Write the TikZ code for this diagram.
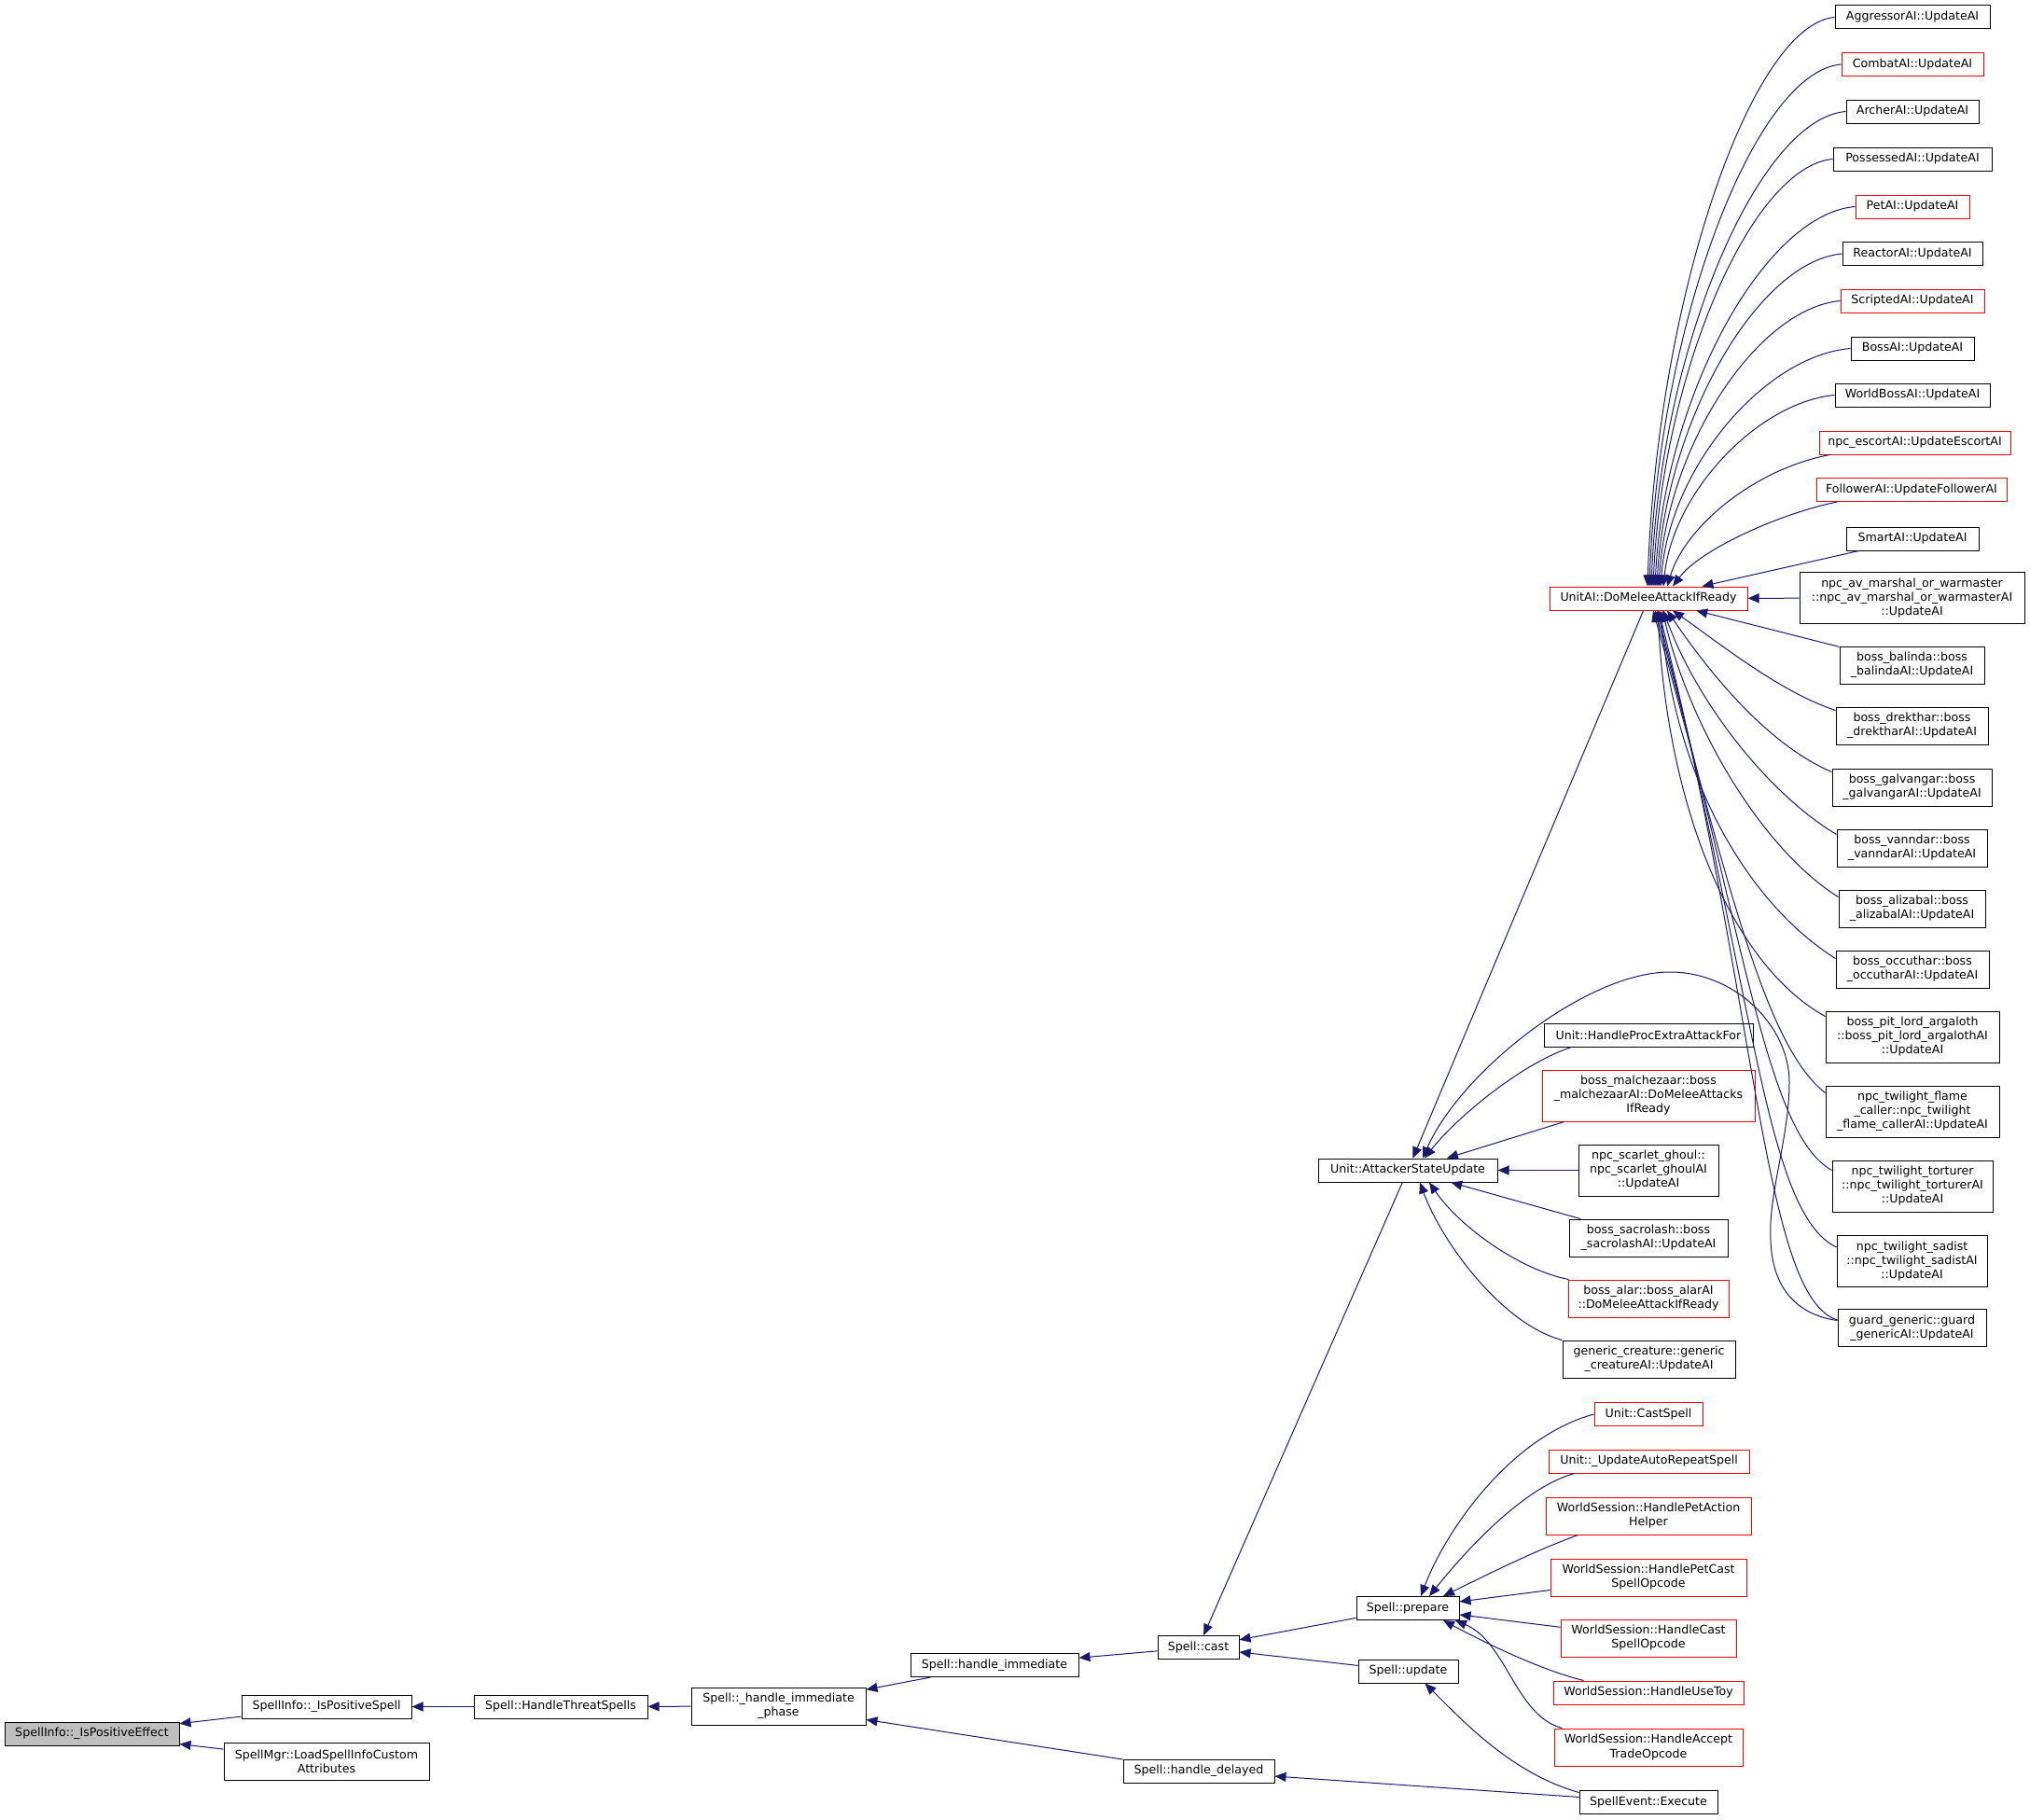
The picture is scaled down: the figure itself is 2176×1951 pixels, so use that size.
\documentclass[tikz,border=0pt]{standalone}
\usepackage{fontspec}
\newfontfamily\dejavu{DejaVu Sans}
\usepackage{xcolor}
\usepackage{tikz}
\usetikzlibrary{arrows.meta}
\definecolor{edgeblue}{HTML}{191970}
\definecolor{nodered}{HTML}{FF0000}
\definecolor{rootgray}{HTML}{BFBFBF}

\begin{document}
\begin{tikzpicture}[x=1pt, y=-1pt,
	fn/.style={draw=black, fill=white, line width=1pt, inner sep=0pt, align=center,
		minimum height=25pt, font=\dejavu\fontsize{12.6}{15}\selectfont},
	fnred/.style={fn, draw=nodered},
	two/.style={minimum height=40pt},
	three/.style={minimum height=55pt},
	callline/.style={<-, >={Triangle[length=12pt, width=10pt]}, draw=edgeblue, line width=1pt}]
			\useasboundingbox (0,0) rectangle (2176,1951);
			
			% spell chain
			\node[fn, fill=rootgray, minimum width=187pt] (effect) at (98.5,1858.5) {SpellInfo::\_IsPositiveEffect};
			\node[fn, minimum width=182pt] (posspell) at (350,1829.5) {SpellInfo::\_IsPositiveSpell};
			\node[fn, two, minimum width=220pt] (loadattr) at (350,1888) {SpellMgr::LoadSpellInfoCustom\\Attributes};
			\node[fn, minimum width=186pt] (threat) at (601,1829.5) {Spell::HandleThreatSpells};
			\node[fn, two, minimum width=187pt] (immphase) at (834.5,1829) {Spell::\_handle\_immediate\\\_phase};
			\node[fn, minimum width=180pt] (handimm) at (1066,1785) {Spell::handle\_immediate};
			\node[fn, minimum width=162pt] (delayed) at (1285,1898.5) {Spell::handle\_delayed};
			\node[fn, minimum width=87pt] (cast) at (1284.5,1766) {Spell::cast};
			\node[fn, minimum width=110pt] (prepare) at (1509,1724) {Spell::prepare};
			\node[fn, minimum width=107pt] (update) at (1509.5,1791.5) {Spell::update};
			\node[fn, minimum width=192pt] (attacker) at (1509,1254.5) {Unit::AttackerStateUpdate};
			\node[fnred, minimum width=212pt] (unitai) at (1767,641.5) {UnitAI::DoMeleeAttackIfReady};
			
			% callers of prepare / update
			\node[fnred, minimum width=116pt] (castspell) at (1767,1516) {Unit::CastSpell};
			\node[fnred, minimum width=215pt] (autorep) at (1767.5,1566.5) {Unit::\_UpdateAutoRepeatSpell};
			\node[fnred, two, minimum width=220pt] (petaction) at (1767,1625) {WorldSession::HandlePetAction\\Helper};
			\node[fnred, two, minimum width=210pt] (petcast) at (1767,1691) {WorldSession::HandlePetCast\\SpellOpcode};
			\node[fnred, two, minimum width=188pt] (castop) at (1767,1756) {WorldSession::HandleCast\\SpellOpcode};
			\node[fnred, minimum width=204pt] (usetoy) at (1767,1814.5) {WorldSession::HandleUseToy};
			\node[fnred, two, minimum width=202pt] (accept) at (1767,1873) {WorldSession::HandleAccept\\TradeOpcode};
			\node[fn, minimum width=148pt] (execute) at (1767,1931.5) {SpellEvent::Execute};
			
			% callers of AttackerStateUpdate
			\node[fn, minimum width=224pt] (procextra) at (1767,1109.5) {Unit::HandleProcExtraAttackFor};
			\node[fnred, three, minimum width=228pt] (malchezaar) at (1767,1174.5) {boss\_malchezaar::boss\\\_malchezaarAI::DoMeleeAttacks\\IfReady};
			\node[fn, three, minimum width=150pt] (ghoul) at (1767,1254.5) {npc\_scarlet\_ghoul::\\npc\_scarlet\_ghoulAI\\::UpdateAI};
			\node[fn, two, minimum width=170pt] (sacrolash) at (1767,1327) {boss\_sacrolash::boss\\\_sacrolashAI::UpdateAI};
			\node[fnred, two, minimum width=172pt] (alar) at (1767,1392) {boss\_alar::boss\_alarAI\\::DoMeleeAttackIfReady};
			\node[fn, two, minimum width=185pt] (generic) at (1767.5,1457) {generic\_creature::generic\\\_creatureAI::UpdateAI};
			
			% callers of DoMeleeAttackIfReady
			\node[fn, minimum width=166pt] (aggressor) at (2050,18.5) {AggressorAI::UpdateAI};
			\node[fnred, minimum width=152pt] (combat) at (2050,69) {CombatAI::UpdateAI};
			\node[fn, minimum width=142pt] (archer) at (2050,119.5) {ArcherAI::UpdateAI};
			\node[fn, minimum width=170pt] (possessed) at (2050,170.5) {PossessedAI::UpdateAI};
			\node[fnred, minimum width=122pt] (pet) at (2050,221.5) {PetAI::UpdateAI};
			\node[fn, minimum width=150pt] (reactor) at (2050,272) {ReactorAI::UpdateAI};
			\node[fnred, minimum width=154pt] (scripted) at (2050,322.5) {ScriptedAI::UpdateAI};
			\node[fn, minimum width=132pt] (boss) at (2050,373.5) {BossAI::UpdateAI};
			\node[fn, minimum width=166pt] (worldboss) at (2050,423.5) {WorldBossAI::UpdateAI};
			\node[fnred, minimum width=205pt] (escort) at (2052.5,474.5) {npc\_escortAI::UpdateEscortAI};
			\node[fnred, minimum width=204pt] (follower) at (2049,525) {FollowerAI::UpdateFollowerAI};
			\node[fn, minimum width=142pt] (smart) at (2050,577.5) {SmartAI::UpdateAI};
			\node[fn, three, minimum width=241pt] (avmarshal) at (2049.5,641) {npc\_av\_marshal\_or\_warmaster\\::npc\_av\_marshal\_or\_warmasterAI\\::UpdateAI};
			\node[fn, two, minimum width=155pt] (balinda) at (2049.5,713) {boss\_balinda::boss\\\_balindaAI::UpdateAI};
			\node[fn, two, minimum width=163pt] (drekthar) at (2049.5,778) {boss\_drekthar::boss\\\_drektharAI::UpdateAI};
			\node[fn, two, minimum width=171pt] (galvangar) at (2049.5,844) {boss\_galvangar::boss\\\_galvangarAI::UpdateAI};
			\node[fn, two, minimum width=161pt] (vanndar) at (2049.5,909) {boss\_vanndar::boss\\\_vanndarAI::UpdateAI};
			\node[fn, two, minimum width=157pt] (alizabal) at (2049.5,974) {boss\_alizabal::boss\\\_alizabalAI::UpdateAI};
			\node[fn, two, minimum width=164pt] (occuthar) at (2050,1039) {boss\_occuthar::boss\\\_occutharAI::UpdateAI};
			\node[fn, three, minimum width=186pt] (pitlord) at (2050,1111.5) {boss\_pit\_lord\_argaloth\\::boss\_pit\_lord\_argalothAI\\::UpdateAI};
			\node[fn, three, minimum width=186pt] (flamecaller) at (2050,1191.5) {npc\_twilight\_flame\\\_caller::npc\_twilight\\\_flame\_callerAI::UpdateAI};
			\node[fn, three, minimum width=172pt] (torturer) at (2050,1271.5) {npc\_twilight\_torturer\\::npc\_twilight\_torturerAI\\::UpdateAI};
			\node[fn, three, minimum width=161pt] (sadist) at (2049.5,1352) {npc\_twilight\_sadist\\::npc\_twilight\_sadistAI\\::UpdateAI};
			\node[fn, two, minimum width=159pt] (guard) at (2049.5,1423.5) {guard\_generic::guard\\\_genericAI::UpdateAI};
			
			% straight calls
			\foreach \a/\b in {effect/posspell, effect/loadattr, posspell/threat, threat/immphase,
				immphase/handimm, immphase/delayed, handimm/cast, cast/prepare, cast/update,
				cast/attacker, delayed/execute, attacker/unitai, prepare/petcast, prepare/castop,
				attacker/malchezaar, attacker/ghoul, attacker/sacrolash, unitai/smart,
				unitai/avmarshal, unitai/balinda} {
				\draw[callline] (\a) -- (\b);
			}
			
			\draw[callline] ([xshift=18pt]update.south) .. controls +(45,45) and +(-70,-20) .. ([yshift=10pt]execute.west);
			\draw[callline] ([xshift=14pt]prepare.north) .. controls +(27,-71) and +(-89,24) .. (castspell.west);
			\draw[callline] ([xshift=23pt]prepare.north) .. controls +(33,-41) and +(-58,16) .. ([xshift=28pt]autorep.south west);
			\draw[callline] ([xshift=38pt]prepare.north) .. controls +(43,-21) and +(-47,17) .. ([xshift=35pt]petaction.south west);
			\draw[callline] ([xshift=38pt]prepare.south) .. controls +(43,23) and +(-48,-12) .. ([xshift=33pt]usetoy.north west);
			\draw[callline] ([xshift=51pt]prepare.south) .. controls +(55,23) and +(-50,-13) .. ([xshift=9pt]accept.north west);
			
			\draw[callline] ([xshift=18pt]attacker.north) .. controls +(33,-42) and +(-55,18) .. ([xshift=30pt]procextra.south west);
			\draw[callline] ([xshift=23pt]attacker.south) .. controls +(33,48) and +(-52,-10) .. ([xshift=1pt]alar.north west);
			\draw[callline] ([xshift=13pt]attacker.south) .. controls +(23,63) and +(-65,-17) .. (generic.north west);
			\draw[callline] ([xshift=16pt]attacker.north) .. controls (1565,1150) and (1700,1042) .. (1790,1042)
				.. controls (1860,1042) and (1918,1100) .. (1918,1160)
				.. controls (1918,1220) and (1895,1280) .. (1898,1330)
				.. controls (1900,1385) and (1930,1410) .. ([yshift=8pt]guard.west);
			
			% fan above DoMeleeAttackIfReady
			\foreach \n/\s/\h/\w in {aggressor/-1pt/305/90, combat/1pt/280/93, archer/3pt/255/94,
				possessed/5pt/229/87, pet/7pt/204/97, reactor/9pt/178/90, scripted/11pt/153/88,
				boss/13pt/128/92, worldboss/16pt/100/83} {
				\draw[callline] ([xshift=\s]unitai.north) .. controls +(10,-\h) and +(-\w,8) .. (\n.west);
			}
			\draw[callline] ([xshift=20pt]unitai.north) .. controls +(20,-65) and +(-80,15) .. ([xshift=12pt]escort.south west);
			\draw[callline] ([xshift=26pt]unitai.north) .. controls +(30,-40) and +(-60,12) .. ([xshift=23pt]follower.south west);
			
			% fan below DoMeleeAttackIfReady
			\foreach \n/\s/\a/\b/\c/\d/\e in {drekthar/26pt/50/35/-60/-20/-4pt, galvangar/20pt/45/66/-70/-30/-4pt,
				vanndar/16pt/35/96/-75/-45/-6pt, alizabal/15pt/30/128/-80/-50/-8pt,
				occuthar/13pt/15/179/-95/-60/-9pt, pitlord/10pt/10/211/-100/-55/-6pt,
				flamecaller/5pt/78/279/-67/-52/-8pt, torturer/7pt/96/346/-71/-40/-11pt,
				sadist/9pt/104/396/-79/-38/-13pt, guard/11pt/107/426/-80/-25/-12pt} {
				\draw[callline] ([xshift=\s]unitai.south) .. controls +(\a,\b) and +(\c,\d) .. ([yshift=\e]\n.north west);
			}
		\end{tikzpicture}
\end{document}
